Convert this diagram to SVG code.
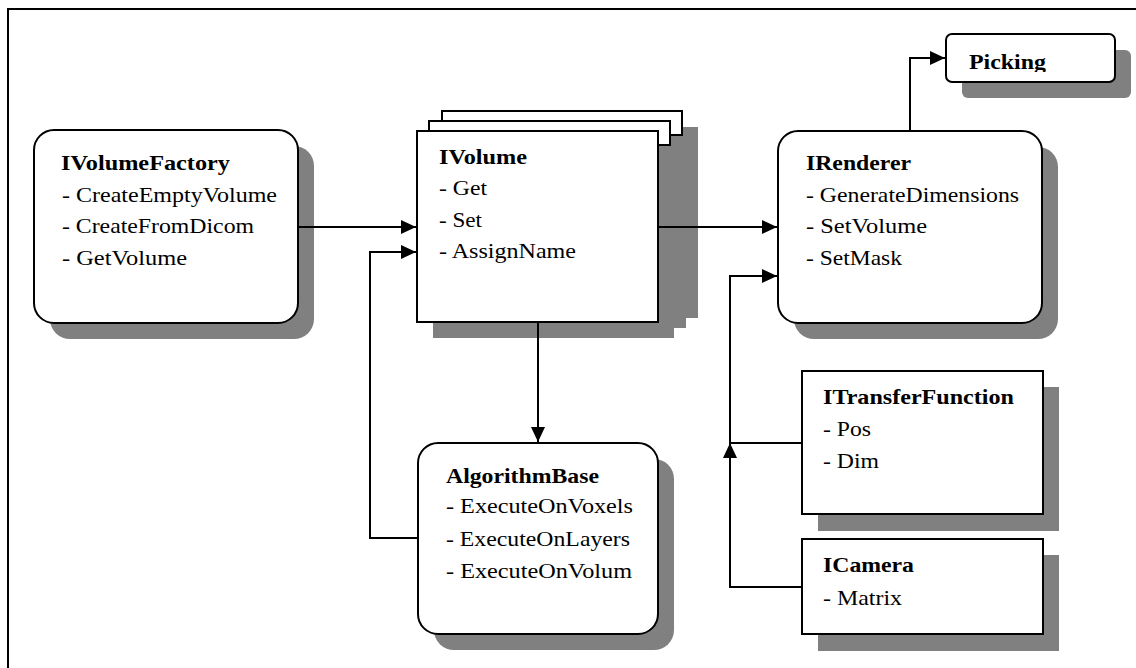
<svg xmlns="http://www.w3.org/2000/svg" width="1136" height="668" viewBox="0 0 1136 668">
<style>
.box{fill:#fff;stroke:#000;stroke-width:2}
.pg{fill:#fff;stroke:none}
.pe{fill:none;stroke:#000;stroke-width:2}
.sh{fill:#808080;stroke:none}
.t{font-family:"Liberation Serif","Times New Roman",Tinos,Times,serif;font-size:21px;fill:#000}
.b{font-weight:bold}
.c{fill:none;stroke:#000;stroke-width:2}
</style>
<defs>
<marker id="ah" markerUnits="userSpaceOnUse" markerWidth="15" markerHeight="14" refX="15" refY="7" orient="auto">
<path d="M0,0 L15,7 L0,14 z" fill="#000"/>
</marker>
<clipPath id="pc"><rect x="946" y="34" width="169" height="38"/></clipPath>
</defs>
<rect width="1136" height="668" fill="#fff"/>
<path d="M8,668 V9 H1136" fill="none" stroke="#000" stroke-width="2"/>

<g id="IVolumeFactory">
<rect class="sh" x="50" y="146" width="264" height="193" rx="20"/>
<rect class="box" x="34" y="130" width="264" height="193" rx="20"/>
<text class="t b" x="61" y="170" textLength="169" lengthAdjust="spacingAndGlyphs">IVolumeFactory</text>
<text class="t" x="62" y="202" textLength="215" lengthAdjust="spacingAndGlyphs">- CreateEmptyVolume</text>
<text class="t" x="62" y="233" textLength="192" lengthAdjust="spacingAndGlyphs">- CreateFromDicom</text>
<text class="t" x="62" y="265" textLength="125" lengthAdjust="spacingAndGlyphs">- GetVolume</text>
</g>

<g id="IVolume">
<rect class="sh" x="458" y="127" width="240" height="191"/>
<rect class="sh" x="445" y="137" width="241" height="191"/>
<rect class="sh" x="433" y="147" width="241" height="191"/>
<polygon class="pg" points="442,121 442,111 682,111 682,135 670,135 670,121"/>
<path class="pe" d="M442,121 V111 H682 V135 H670"/>
<polygon class="pg" points="429,131 429,121 670,121 670,145 658,145 658,131"/>
<path class="pe" d="M429,131 V121 H670 V145 H658"/>
<rect class="box" x="417" y="131" width="241" height="191"/>
<text class="t b" x="439" y="164" textLength="88" lengthAdjust="spacingAndGlyphs">IVolume</text>
<text class="t" x="439" y="195" textLength="48" lengthAdjust="spacingAndGlyphs">- Get</text>
<text class="t" x="439" y="227" textLength="43" lengthAdjust="spacingAndGlyphs">- Set</text>
<text class="t" x="439" y="258" textLength="137" lengthAdjust="spacingAndGlyphs">- AssignName</text>
</g>

<g id="IRenderer">
<rect class="sh" x="794" y="147" width="264" height="192" rx="20"/>
<rect class="box" x="778" y="131" width="264" height="192" rx="20"/>
<text class="t b" x="806" y="170" textLength="105" lengthAdjust="spacingAndGlyphs">IRenderer</text>
<text class="t" x="806" y="202" textLength="213" lengthAdjust="spacingAndGlyphs">- GenerateDimensions</text>
<text class="t" x="806" y="233" textLength="121" lengthAdjust="spacingAndGlyphs">- SetVolume</text>
<text class="t" x="806" y="265" textLength="96" lengthAdjust="spacingAndGlyphs">- SetMask</text>
</g>

<g id="Picking">
<rect class="sh" x="962" y="50" width="169" height="48" rx="6"/>
<rect class="box" x="946" y="34" width="169" height="48" rx="6"/>
<text class="t b" x="969" y="69" textLength="77" lengthAdjust="spacingAndGlyphs" clip-path="url(#pc)">Picking</text>
</g>

<g id="AlgorithmBase">
<rect class="sh" x="434" y="459" width="240" height="191" rx="20"/>
<rect class="box" x="418" y="443" width="240" height="191" rx="20"/>
<text class="t b" x="446" y="483" textLength="153" lengthAdjust="spacingAndGlyphs">AlgorithmBase</text>
<text class="t" x="446" y="513" textLength="187" lengthAdjust="spacingAndGlyphs">- ExecuteOnVoxels</text>
<text class="t" x="446" y="546" textLength="184" lengthAdjust="spacingAndGlyphs">- ExecuteOnLayers</text>
<text class="t" x="446" y="578" textLength="186" lengthAdjust="spacingAndGlyphs">- ExecuteOnVolum</text>
</g>

<g id="ITransferFunction">
<rect class="sh" x="818" y="387" width="241" height="144"/>
<rect class="box" x="802" y="371" width="241" height="143"/>
<text class="t b" x="823" y="404" textLength="191" lengthAdjust="spacingAndGlyphs">ITransferFunction</text>
<text class="t" x="823" y="436" textLength="48" lengthAdjust="spacingAndGlyphs">- Pos</text>
<text class="t" x="823" y="468" textLength="56" lengthAdjust="spacingAndGlyphs">- Dim</text>
</g>

<g id="ICamera">
<rect class="sh" x="818" y="555" width="241" height="96"/>
<rect class="box" x="802" y="539" width="241" height="95"/>
<text class="t b" x="823" y="572" textLength="91" lengthAdjust="spacingAndGlyphs">ICamera</text>
<text class="t" x="823" y="605" textLength="79" lengthAdjust="spacingAndGlyphs">- Matrix</text>
</g>

<g id="connectors">
<path class="c" d="M298,227 H416" marker-end="url(#ah)"/>
<path class="c" d="M418,538 H370 V252 H416" marker-end="url(#ah)"/>
<path class="c" d="M538,322 V442" marker-end="url(#ah)"/>
<path class="c" d="M658,227 H777" marker-end="url(#ah)"/>
<path class="c" d="M910,131 V58 H945" marker-end="url(#ah)"/>
<path class="c" d="M802,587 H730 V443" marker-end="url(#ah)"/>
<path class="c" d="M802,443 H730 V276 H777" marker-end="url(#ah)"/>
</g>
</svg>
